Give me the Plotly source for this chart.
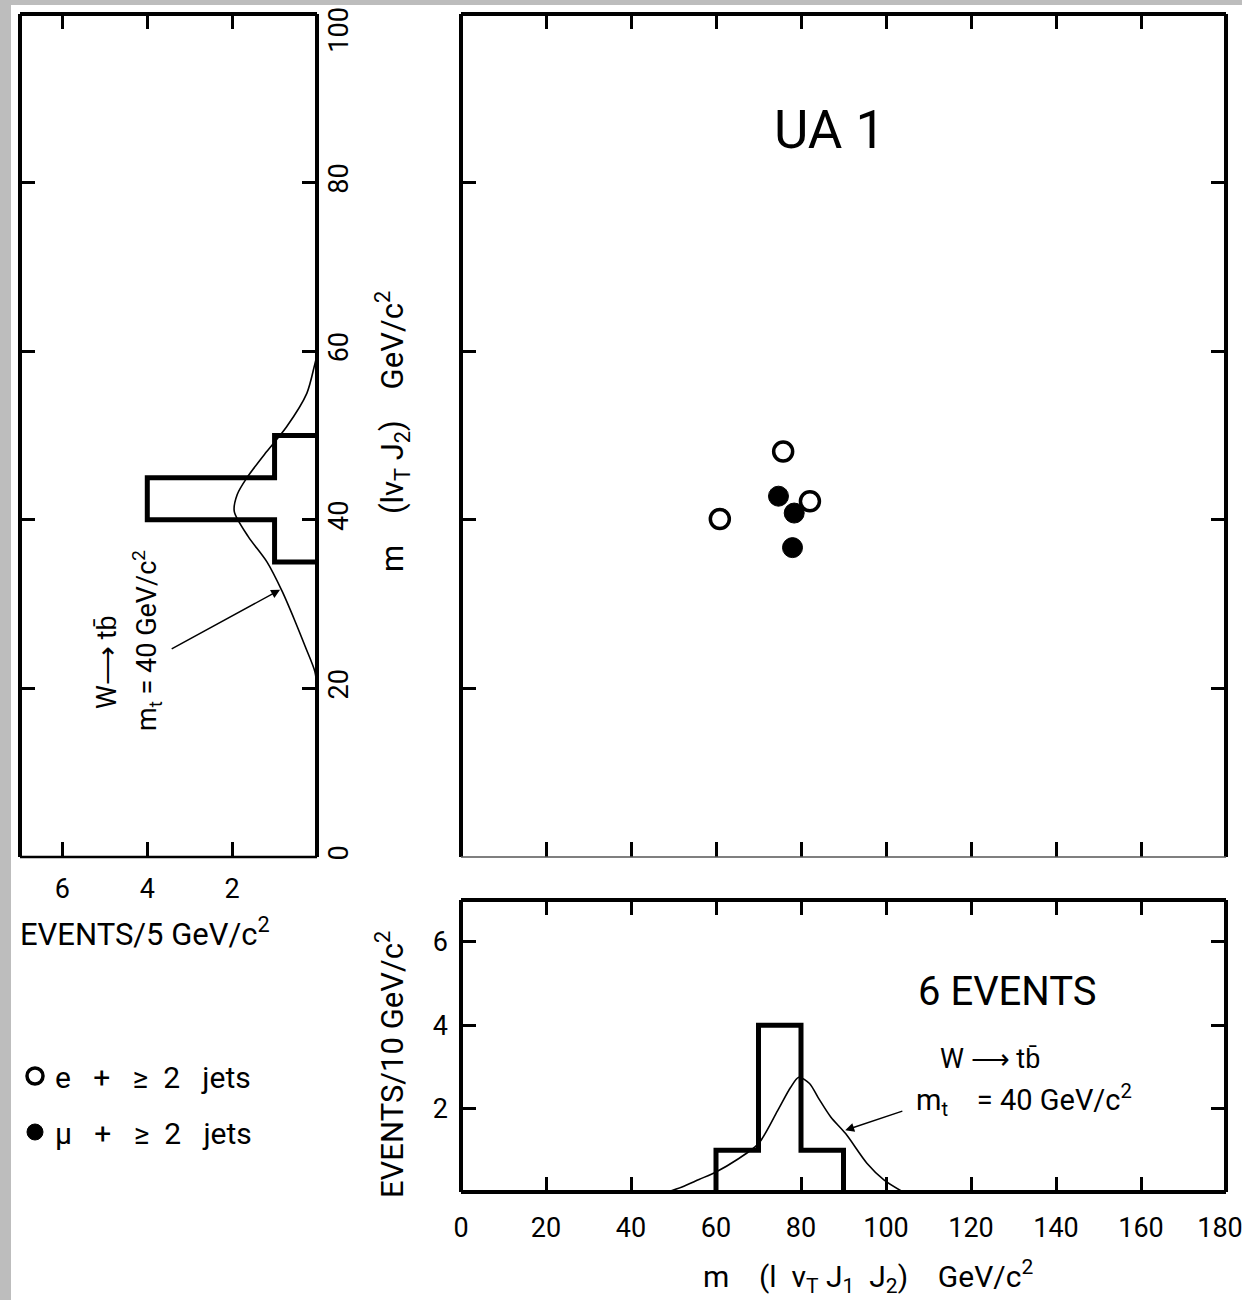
import plotly.graph_objects as go

W, H = 1242, 1300

# ---------------- data ----------------
# scatter: m(l nu_T J1 J2) vs m(l nu_T J2), GeV/c^2
e_mass_x = [60.9, 75.8, 82.1]      # e + >=2 jets (open circles)
e_mass_y = [40.1, 48.1, 42.2]
mu_mass_x = [74.7, 78.4, 78.0]     # mu + >=2 jets (filled circles)
mu_mass_y = [42.8, 40.8, 36.7]

# left projection histogram (EVENTS / 5 GeV/c^2)
left_bin_edges = [35, 40, 45, 50]
left_counts = [1, 4, 1]
# bottom projection histogram (EVENTS / 10 GeV/c^2)
bottom_bin_edges = [60, 70, 80, 90]
bottom_counts = [1, 4, 1]

# W -> t bbar, m_t = 40 GeV/c^2 expectation curves
left_curve_m = [20, 22, 25, 28, 31.5, 35, 38, 41, 43, 45, 48, 51, 55, 58.5, 59.5]
left_curve_n = [0, 0.05, 0.28, 0.52, 0.82, 1.18, 1.62, 1.95, 1.88, 1.65, 1.2, 0.72, 0.24, 0.05, 0]
bottom_curve_m = [48.5, 52, 56, 60, 65, 70, 74.5, 77.5, 79.5, 82, 84, 87, 90.5, 95.5, 99.5, 104]
bottom_curve_n = [0, 0.12, 0.3, 0.48, 0.78, 1.16, 1.95, 2.5, 2.75, 2.6, 2.27, 1.8, 1.4, 0.69, 0.29, 0]

main_x_ticks = [20, 40, 60, 80, 100, 120, 140, 160]
main_y_ticks = [20, 40, 60, 80]
left_mass_ticks = [0, 20, 40, 60, 80]
left_mass_top_tick = [100]
left_event_ticks = [2, 4, 6]
bottom_mass_ticks = [0, 20, 40, 60, 80, 100, 120, 140, 160]
bottom_mass_end_tick = [180]
bottom_event_ticks = [2, 4, 6]

FONT = "Roboto, Liberation Sans, sans-serif"


def step_outline(edges, counts):
    xs, ys = [edges[0]], [0]
    for i, c in enumerate(counts):
        xs += [edges[i], edges[i + 1]]
        ys += [c, c]
    xs.append(edges[-1])
    ys.append(0)
    return xs, ys


def dx(p):
    return p / W


def dy(p):
    return 1 - p / H


fig = go.Figure()

# main scatter
fig.add_trace(go.Scatter(x=e_mass_x, y=e_mass_y, mode="markers", name="e   +   ≥  2   jets",
                         legendgroup="e",
                         marker=dict(symbol="circle", size=19, color="white",
                                     line=dict(color="black", width=3.5)),
                         xaxis="x", yaxis="y"))
fig.add_trace(go.Scatter(x=mu_mass_x, y=mu_mass_y, mode="markers", name="μ   +   ≥  2   jets",
                         legendgroup="mu",
                         marker=dict(symbol="circle", size=20, color="black",
                                     line=dict(color="black", width=1)),
                         xaxis="x", yaxis="y"))

# left histogram (horizontal)
hy, hx = step_outline(left_bin_edges, left_counts)
fig.add_trace(go.Scatter(x=hx, y=hy, mode="lines", showlegend=False,
                         line=dict(color="black", width=5),
                         xaxis="x2", yaxis="y2"))
fig.add_trace(go.Scatter(x=left_curve_n, y=left_curve_m, mode="lines", showlegend=False,
                         line=dict(color="black", width=1.6, shape="spline", smoothing=0.8),
                         xaxis="x2", yaxis="y2"))

# bottom histogram
bx, by = step_outline(bottom_bin_edges, bottom_counts)
fig.add_trace(go.Scatter(x=bx, y=by, mode="lines", showlegend=False,
                         line=dict(color="black", width=5),
                         xaxis="x3", yaxis="y3"))
fig.add_trace(go.Scatter(x=bottom_curve_m, y=bottom_curve_n, mode="lines", showlegend=False,
                         line=dict(color="black", width=1.6, shape="spline", smoothing=0.8),
                         xaxis="x3", yaxis="y3"))

# invisible helper traces so the overlay axes render their labels
fig.add_trace(go.Scatter(x=[None], y=[None], xaxis="x2", yaxis="y4", showlegend=False,
                         hoverinfo="skip"))
fig.add_trace(go.Scatter(x=[None], y=[None], xaxis="x4", yaxis="y3", showlegend=False,
                         hoverinfo="skip"))

TS = 27
tickfont = dict(family=FONT, size=TS, color="black")
common = dict(showgrid=False, zeroline=False, showline=False, ticks="inside",
              mirror="ticks", tickcolor="black", tickwidth=3, ticklen=15,
              tickfont=tickfont, automargin=False)
bare = dict(showgrid=False, zeroline=False, showline=False, ticks="",
            tickfont=tickfont, automargin=False, ticklabeloverflow="allow")

fig.update_layout(
    width=W, height=H, autosize=False,
    margin=dict(l=0, r=0, t=0, b=0, pad=0),
    paper_bgcolor="#bdbdbd",
    plot_bgcolor="white",
    font=dict(family=FONT, size=28, color="black"),
    xaxis=dict(domain=[dx(461), dx(1226)], range=[0, 180], tickvals=main_x_ticks,
               showticklabels=False, anchor="y", **common),
    yaxis=dict(domain=[dy(857), dy(14)], range=[0, 100], tickvals=main_y_ticks,
               showticklabels=False, anchor="x", **common),
    xaxis2=dict(domain=[dx(20), dx(317)], range=[7, 0], tickvals=left_event_ticks,
                anchor="y2", ticklabelstandoff=13, **common),
    yaxis2=dict(domain=[dy(857), dy(14)], range=[0, 100], tickvals=left_mass_ticks,
                side="right", tickangle=-90, anchor="x2", ticklabelstandoff=3, **common),
    yaxis4=dict(domain=[dy(857), dy(14)], range=[0, 100], tickvals=left_mass_top_tick,
                side="right", tickangle=-90, anchor="x2", overlaying="y2",
                ticklabelstandoff=3, ticklabelshift=20, **bare),
    xaxis3=dict(domain=[dx(461), dx(1226)], range=[0, 180], tickvals=bottom_mass_ticks,
                anchor="y3", ticklabelstandoff=17, **common),
    xaxis4=dict(domain=[dx(461), dx(1226)], range=[0, 180], tickvals=bottom_mass_end_tick,
                anchor="y3", overlaying="x3", ticklabelstandoff=17, ticklabelshift=-6, **bare),
    yaxis3=dict(domain=[dy(1192), dy(900)], range=[0, 7], tickvals=bottom_event_ticks,
                anchor="x3", ticklabelstandoff=12, **common),
    showlegend=True,
    legend=dict(x=dx(15), y=dy(1050), xanchor="left", yanchor="top",
                bgcolor="rgba(0,0,0,0)", font=dict(family=FONT, size=30, color="black"),
                tracegroupgap=14, itemsizing="trace"),
)

shapes = []
# white sheet
shapes.append(dict(type="rect", xref="paper", yref="paper", x0=dx(11), x1=1, y0=0, y1=dy(5),
                   fillcolor="white", line=dict(width=0), layer="below"))


def frame(xa, ya, widths, colors):
    # widths: left, top, right, bottom
    xr, yr = xa + " domain", ya + " domain"
    segs = [((0, 0), (0, 1)), ((0, 1), (1, 1)), ((1, 0), (1, 1)), ((0, 0), (1, 0))]
    for (p0, p1), w, c in zip(segs, widths, colors):
        shapes.append(dict(type="line", xref=xr, yref=yr, x0=p0[0], y0=p0[1],
                           x1=p1[0], y1=p1[1], line=dict(color=c, width=w)))


frame("x", "y", [4, 4, 4, 1.5], ["black", "black", "black", "#555"])
frame("x2", "y2", [4, 4, 4, 2.5], ["black"] * 4)
frame("x3", "y3", [4, 4, 4, 4], ["black"] * 4)
fig.update_layout(shapes=shapes)


def note(text, x, y, xref="paper", yref="paper", size=27, angle=0, xanchor="center"):
    return dict(text=text, x=x, y=y, xref=xref, yref=yref, showarrow=False,
                textangle=angle, xanchor=xanchor, yanchor="middle",
                font=dict(family=FONT, size=size, color="black"))


ann = []
ann.append(note("UA 1", 86.8, 86.2, "x", "y", size=53))
ann.append(note("m    (lν<sub>T</sub> J<sub>2</sub>)    GeV/c<sup>2</sup>", dx(392), dy(432),
                size=31, angle=-90))
# left panel annotations
ann.append(note("W⟶ tb\u0304", dx(107), dy(662), size=27, angle=-90))
ann.append(note("m<sub>t</sub> = 40 GeV/c<sup>2</sup>", dx(147), dy(641), size=27, angle=-90))
ann.append(dict(x=0.87, y=31.7, ax=3.46, ay=24.6, xref="x2", yref="y2", axref="x2", ayref="y2",
                text="", showarrow=True, arrowhead=2, arrowsize=1.2, arrowwidth=1.5,
                arrowcolor="black"))
ann.append(note("EVENTS/5 GeV/c<sup>2</sup>", dx(18), dy(932), size=31, xanchor="left"))
# bottom panel annotations
ann.append(note("EVENTS/10 GeV/c<sup>2</sup>", dx(390), dy(1065), size=31, angle=-90))
ann.append(note("m    (l  ν<sub>T</sub> J<sub>1</sub>  J<sub>2</sub>)    GeV/c<sup>2</sup>",
                dx(868), dy(1276), size=30))
ann.append(note("6 EVENTS", 128.5, 4.8, "x3", "y3", size=40))
ann.append(note("W ⟶ tb\u0304", 124.5, 3.2, "x3", "y3", size=27))
ann.append(note("m<sub>t</sub>    = 40 GeV/c<sup>2</sup>", 132.5, 2.2, "x3", "y3", size=29))
ann.append(dict(x=90.4, y=1.48, ax=104.2, ay=1.95, xref="x3", yref="y3", axref="x3", ayref="y3",
                text="", showarrow=True, arrowhead=2, arrowsize=1.2, arrowwidth=1.5,
                arrowcolor="black"))
fig.update_layout(annotations=ann)

fig.write_html(
    "out.html",
    config={"displayModeBar": False},
    post_script="document.body.style.margin='0';document.body.style.overflow='hidden';",
)
